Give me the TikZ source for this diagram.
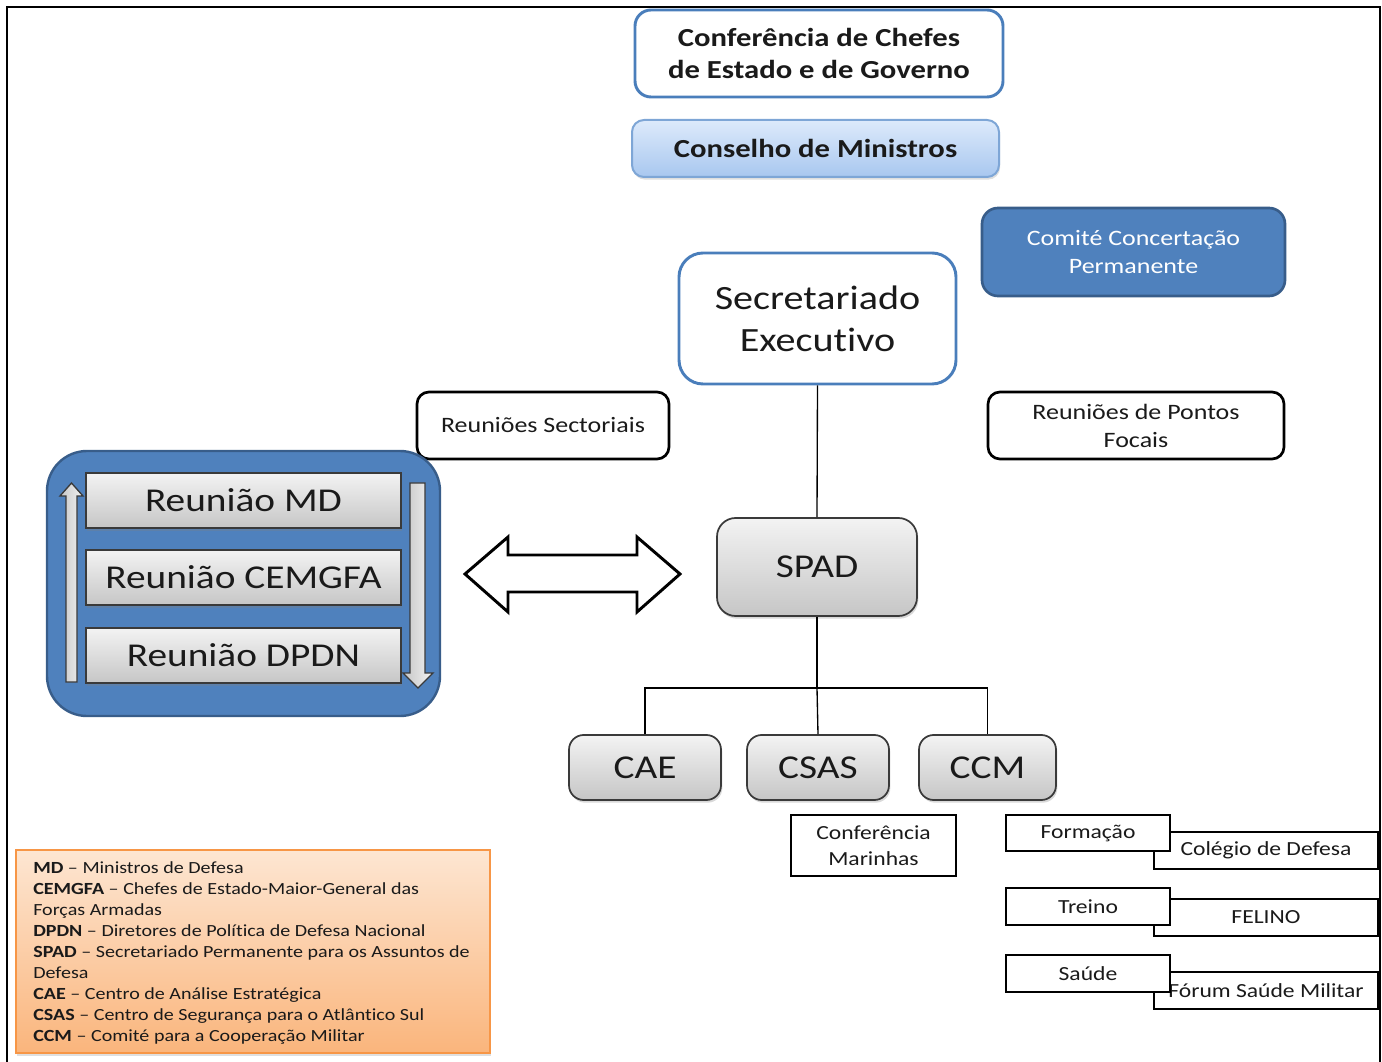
\documentclass[tikz,border=0pt]{standalone}
\usepackage{fontspec}
\setmainfont{Carlito}[FakeStretch=1.18, Ligatures={NoCommon,NoRare,NoContextual}, Contextuals=NoAlternate]
\usetikzlibrary{shadows}
\definecolor{bluebd}{HTML}{4A7EBB}
\definecolor{constop}{HTML}{DDEAFB}
\definecolor{consbot}{HTML}{A8C7EF}
\definecolor{consbd}{HTML}{7EA6D6}
\definecolor{cpfill}{HTML}{4F81BD}
\definecolor{cpbd}{HTML}{385D8A}
\definecolor{graytop}{HTML}{F3F3F3}
\definecolor{graybot}{HTML}{C6C6C6}
\definecolor{graybd}{HTML}{3A3A3A}
\definecolor{legtop}{HTML}{FDE6D2}
\definecolor{legbot}{HTML}{FAB57C}
\definecolor{legbd}{HTML}{F79646}
\definecolor{txt}{HTML}{1A1A1A}
\newcommand\myfs[2]{\fontsize{#1}{#2}\selectfont}
\begin{document}
\begin{tikzpicture}[x=0.75pt,y=-0.75pt,
  sz/.style 2 args={minimum width=#1*0.75pt, minimum height=#2*0.75pt, inner sep=0pt},
  bluebox/.style={draw=bluebd, line width=2.2pt, fill=white, align=center, text=txt},
  consbox/.style={draw=consbd, line width=1.5pt, top color=constop, bottom color=consbot, rounded corners=9pt, align=center, text=txt,
    drop shadow={opacity=0.25, shadow xshift=0.8pt, shadow yshift=-2pt}},
  cpbox/.style={draw=cpbd, line width=2pt, fill=cpfill, rounded corners=12pt, align=center, text=white},
  blackbox/.style={draw=black, line width=2pt, fill=white, rounded corners=9pt, align=center, text=txt},
  graybox/.style={draw=graybd, line width=1.3pt, top color=graytop, bottom color=graybot, align=center, text=txt,
    drop shadow={opacity=0.3, shadow xshift=1pt, shadow yshift=-2pt}},
  sqbox/.style={draw=black, line width=2pt, fill=white, align=center, text=txt},
  conn/.style={draw=black, line width=1pt},
  vertarrow/.style={draw=graybd, line width=1pt, left color=graybot, right color=graytop}
]
\useasboundingbox (0,0) rectangle (1382,1062);
% frame
\draw[line width=1.6pt] (7,1062) -- (7,7) -- (1380,7) -- (1380,1062);

% top boxes
\node[bluebox, sz={368}{87}, rounded corners=12pt, font=\myfs{19.5}{24.5}\bfseries] (conf) at (819,53.5)
  {Conferência de Chefes\\de Estado e de Governo};
\node[consbox, sz={367}{57}, font=\myfs{19.5}{24}\bfseries] (cons) at (815.5,148.5)
  {Conselho de Ministros};
\node[cpbox, sz={303}{88}, font=\myfs{16.5}{21}] (comite) at (1133.5,252)
  {Comité Concertação\\Permanente};
\node[bluebox, sz={277}{131}, rounded corners=18pt, font=\myfs{25.5}{31.5}] (secr) at (817.5,318.5)
  {Secretariado\\Execut\kern0pt ivo};
\node[blackbox, sz={252}{67}, font=\myfs{16.5}{21}] (rs) at (543,425.5)
  {Reuniões Sectoriais};
\node[blackbox, sz={296}{67}, font=\myfs{16.5}{21}] (rpf) at (1136,425.5)
  {Reuniões de Pontos\\Focais};

% SPAD and children
\node[graybox, sz={200}{98}, rounded corners=14pt, font=\myfs{25}{30}] (spad) at (817,567) {SPAD};
\node[graybox, sz={152}{65}, rounded corners=11pt, font=\myfs{25}{30}] (cae) at (645,767.5) {CAE};
\node[graybox, sz={142}{65}, rounded corners=11pt, font=\myfs{25}{30}] (csas) at (818,767.5) {CSAS};
\node[graybox, sz={137}{65}, rounded corners=11pt, font=\myfs{25}{30}] (ccm) at (987.5,767.5) {CCM};
\coordinate (bus) at (817,688);
\draw[conn] (secr.south) -- (spad.north);
\draw[conn] (spad.south) -- (bus);
\draw[conn] (cae.north) |- (bus) -| (ccm.north);
\draw[conn] (bus) -- (csas.north);

% sub boxes
\node[sqbox, sz={165}{61}, font=\myfs{15}{19.5}] (cm) at (873.5,845.5) {Conferência\\Marinhas};
\node[sqbox, sz={224}{37}, font=\myfs{15}{19}] (coleg) at (1266,850.5) {Colégio de Defesa};
\node[sqbox, sz={164}{36}, font=\myfs{15}{19}] (form) at (1088,833) {Formação};
\node[sqbox, sz={224}{37}, font=\myfs{15}{19}] (felino) at (1266,917.5) {FELINO};
\node[sqbox, sz={164}{37}, font=\myfs{15}{19}] (treino) at (1088,906.5) {Treino};
\node[sqbox, sz={224}{37}, font=\myfs{15}{19}] (forum) at (1266,990.5) {Fórum Saúde Militar};
\node[sqbox, sz={164}{37}, font=\myfs{15}{19}] (saude) at (1088,973.5) {Saúde};

% left container
\node[cpbox, sz={393}{265}, rounded corners=30pt, line width=1.8pt, draw=cpbd] (cont) at (243.5,583.5) {};
\node[graybox, sz={315}{55}, drop shadow={opacity=0}, font=\myfs{25}{30}] (rmd) at (243.5,500.5) {Reunião MD};
\node[graybox, sz={315}{55}, drop shadow={opacity=0}, font=\myfs{25}{30}] (rcem) at (243.5,577.5) {Reunião CEMGFA};
\node[graybox, sz={315}{55}, drop shadow={opacity=0}, font=\myfs{25}{30}] (rdpdn) at (243.5,655.5) {Reunião DPDN};
% vertical arrows
\draw[vertarrow] (66,682) -- (66,496) -- (60,496) -- (71.5,483) -- (83,496) -- (77,496) -- (77,682) -- cycle;
\draw[vertarrow] (410,483) -- (410,673) -- (403,673) -- (418,688) -- (433,673) -- (425,673) -- (425,483) -- cycle;

% double arrow
\draw[line width=2.2pt, line join=miter, fill=white]
  (465,574) -- (508,537) -- (508,555) -- (637,555) -- (637,537) -- (680,574)
  -- (637,612) -- (637,592) -- (508,592) -- (508,612) -- cycle;

% legend
\node[draw=legbd, line width=1.2pt, top color=legtop, bottom color=legbot, sz={474}{203},
  drop shadow={opacity=0.25, shadow xshift=1pt, shadow yshift=-2pt}] (legend) at (253,951.5) {};
\node[anchor=north west, inner sep=0pt, align=left, text=txt, font=\myfs{12.75}{15.75}] (legtext) at (33,861)
  {\textbf{MD} – Ministros de Defesa\\
   \textbf{CEMGFA} – Chefes de Estado-Maior-General das\\
   Forças Armadas\\
   \textbf{DPDN} – Diretores de Polít\kern0pt ica de Defesa Nacional\\
   \textbf{SPAD} – Secretariado Permanente para os Assuntos de\\
   Defesa\\
   \textbf{CAE} – Centro de Análise Estratégica\\
   \textbf{CSAS} – Centro de Segurança para o Atlântico Sul\\
   \textbf{CCM} – Comité para a Cooperação Militar};
\end{tikzpicture}
\end{document}
